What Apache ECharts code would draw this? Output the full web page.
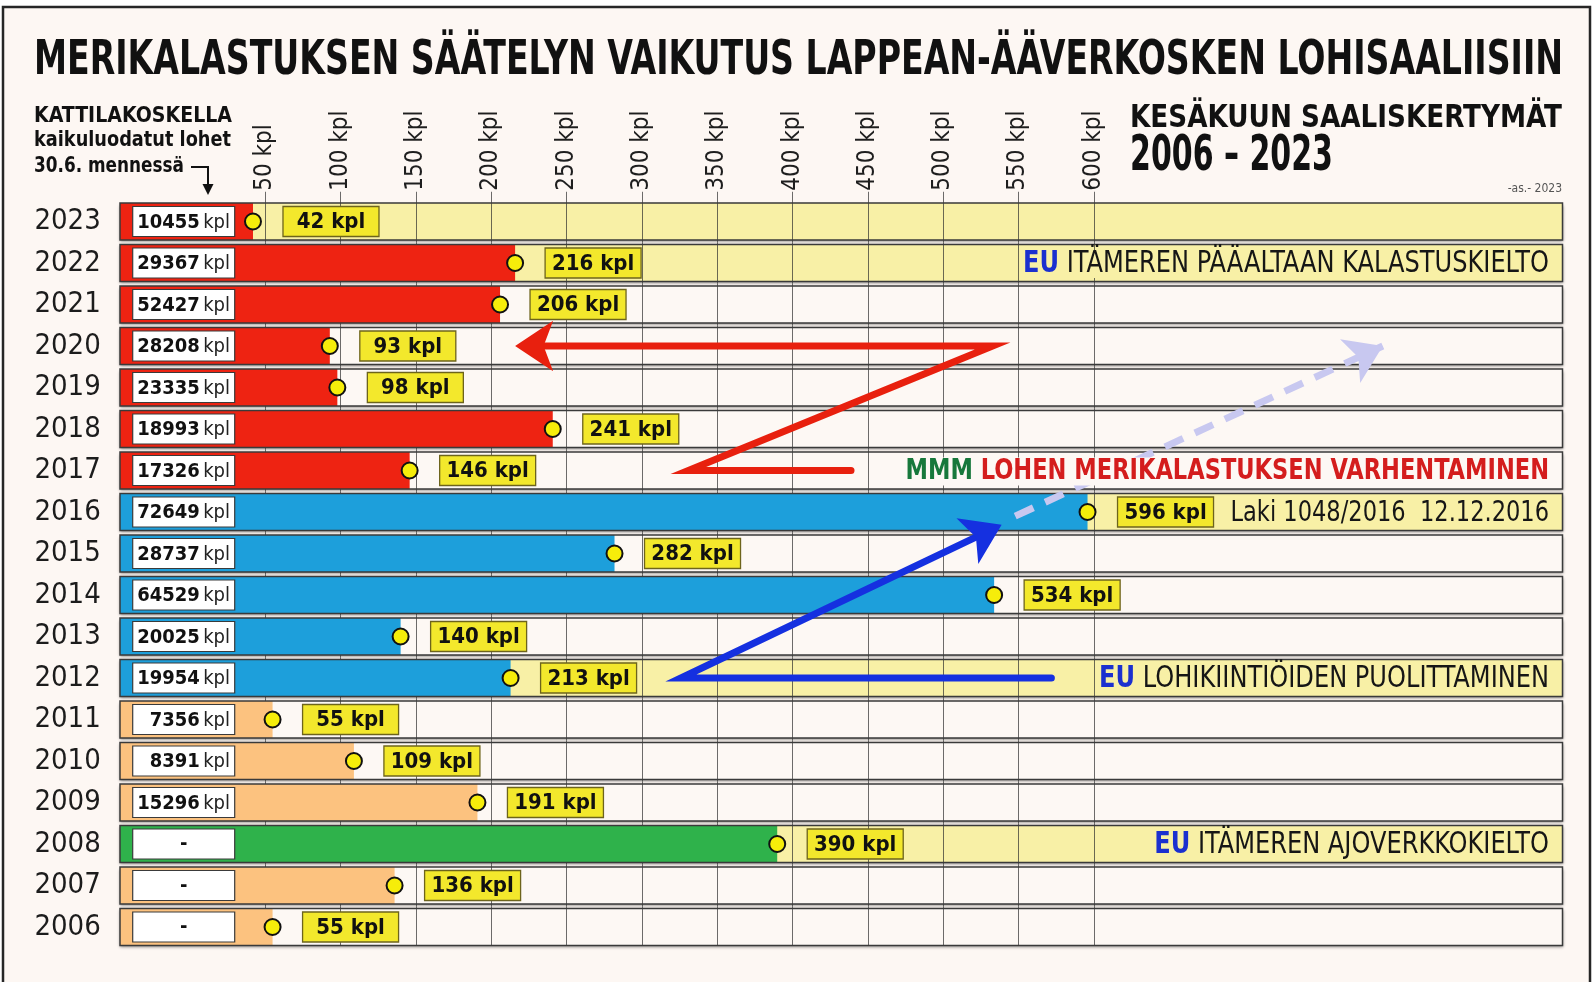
<!DOCTYPE html>
<html>
<head>
<meta charset="utf-8">
<script src="https://cdn.jsdelivr.net/npm/echarts@6/dist/echarts.min.js"></script>
<style>
  html, body { margin: 0; background: #fff; }
  #chart { width: 1596px; height: 982px; }
</style>
</head>
<body>
<div id="chart"></div>
<script>
// rows from top to bottom, as in the picture
const YEARS = ['2023', '2022', '2021', '2020', '2019', '2018', '2017', '2016', '2015',
  '2014', '2013', '2012', '2011', '2010', '2009', '2008', '2007', '2006'];
// June catch at Lappeenrannan/Äävekoski (kpl)
const CATCH = [42, 216, 206, 93, 98, 241, 146, 596, 282, 534, 140, 213, 55, 109, 191, 390, 136, 55];
// echo-sounded salmon at Kattilakoski by 30.6. (null = no count)
const COUNTED = [10455, 29367, 52427, 28208, 23335, 18993, 17326, 72649, 28737, 64529,
  20025, 19954, 7356, 8391, 15296, null, null, null];
const PERIOD = ['mmm', 'mmm', 'mmm', 'mmm', 'mmm', 'mmm', 'mmm',
  'quota', 'quota', 'quota', 'quota', 'quota',
  'free', 'free', 'free', 'driftnet', 'free', 'free'];
const HIGHLIGHT_YEARS = ['2023', '2022', '2016', '2012', '2008'];
const TICKS = [50, 100, 150, 200, 250, 300, 350, 400, 450, 500, 550, 600];

const NOTES = [
  { year: '2022', parts: [['EU', 'eu'], [' ITÄMEREN PÄÄALTAAN KALASTUSKIELTO', 'txt']] },
  { year: '2017', parts: [['MMM', 'mmm'], [' LOHEN MERIKALASTUKSEN VARHENTAMINEN', 'red']] },
  { year: '2016', parts: [['Laki 1048/2016  12.12.2016', 'laki']] },
  { year: '2012', parts: [['EU', 'eu'], [' LOHIKIINTIÖIDEN PUOLITTAMINEN', 'txt']] },
  { year: '2008', parts: [['EU', 'eu'], [' ITÄMEREN AJOVERKKOKIELTO', 'txt']] }
];

// arrows in [kpl, row] space (row 0 = 2023): body ends inside the head, head = last segment
const RED_BODY = [[439, 6], [331, 6], [533, 3], [236, 3]];
const RED_HEAD = [[533, 3], [216, 3]];
const BLUE_BODY = [[572, 11], [326, 11], [524, 7.57]];
const BLUE_HEAD = [[326, 11], [539, 7.31]];
const TREND_ARROW = [[548, 7.1], [792, 3]];

const FAM = "'DejaVu Sans Condensed', 'DejaVu Sans', sans-serif";
const PERIOD_COLOR = { mmm: '#ee2312', quota: '#1d9fdb', free: '#fcc27f', driftnet: '#2fb24b' };
const BAND_FILL = '#fdf8f4';
const BAND_HL = '#f8f0a6';
const BAND_INSET = 5.6;

const mctx = document.createElement('canvas').getContext('2d');
function textWidth(str, font) {
  mctx.font = font;
  return mctx.measureText(str).width;
}
function fit(str, font, w) {
  return w / textWidth(str, font);
}

const NOTE_SIZE = 31;
const NOTE_RICH = {
  eu: { fontFamily: FAM, fontSize: NOTE_SIZE, fontWeight: 'bold', fill: '#1b30cf', lineHeight: 28 },
  txt: { fontFamily: FAM, fontSize: NOTE_SIZE, fill: '#161616', lineHeight: 28 },
  laki: { fontFamily: FAM, fontSize: 29, fill: '#161616', lineHeight: 28 },
  mmm: { fontFamily: FAM, fontSize: 29, fontWeight: 'bold', fill: '#17783b', lineHeight: 28 },
  red: { fontFamily: FAM, fontSize: 29, fontWeight: 'bold', fill: '#d41d1d', lineHeight: 28 }
};
function partsWidth(parts) {
  return parts.reduce((s, [t, k]) => {
    const r = NOTE_RICH[k];
    return s + textWidth(t, (r.fontWeight || '') + ' ' + r.fontSize + 'px ' + FAM);
  }, 0);
}
const NOTE_SCALE = 526 / partsWidth(NOTES[0].parts);

const chart = echarts.init(document.getElementById('chart'));

function bandItem(params, api) {
  const i = params.dataIndex;
  const cs = params.coordSys;
  const cy = api.coord([0, i])[1];
  const pitch = api.size([0, 1])[1];
  const h = pitch - 4.5;
  const x0 = cs.x + BAND_INSET;
  const x1 = cs.x + cs.width;
  const hl = HIGHLIGHT_YEARS.includes(YEARS[i]);
  const children = [{
    type: 'rect',
    shape: { x: x0, y: cy - h / 2, width: x1 - x0, height: h },
    style: { fill: hl ? BAND_HL : BAND_FILL, shadowBlur: 3, shadowOffsetY: 1.5, shadowColor: 'rgba(0,0,0,0.45)' }
  }];
  const top = i === 0 ? cy - pitch / 2 - 9 : cy - pitch / 2;
  const bottom = i === YEARS.length - 1 ? cy + h / 2 : cy + pitch / 2;
  TICKS.forEach(t => {
    const x = Math.round(api.coord([t, i])[0]) + 0.5;
    children.push({
      type: 'line',
      shape: { x1: x, y1: top, x2: x, y2: bottom },
      style: { stroke: 'rgba(45,45,45,0.7)', lineWidth: 1 }
    });
  });
  return { type: 'group', children };
}

function rowItem(params, api) {
  const i = params.dataIndex;
  const v = api.value(0);
  const cs = params.coordSys;
  const [px, cy] = api.coord([v, i]);
  const pitch = api.size([0, 1])[1];
  const h = pitch - 4.5;
  const x0 = cs.x + BAND_INSET;
  const x1 = cs.x + cs.width;
  const n = COUNTED[i];
  const children = [
    {
      type: 'rect',
      shape: { x: x0, y: cy - h / 2, width: px - x0, height: h },
      style: { fill: PERIOD_COLOR[PERIOD[i]] }
    },
    {
      type: 'rect',
      shape: { x: x0, y: cy - h / 2, width: x1 - x0, height: h },
      style: { fill: 'none', stroke: '#3a3a3a', lineWidth: 1.5 }
    },
    {
      type: 'rect',
      shape: { x: x0 + 12.7, y: cy - 15, width: 102, height: 30 },
      style: { fill: '#ffffff', stroke: '#3a3a3a', lineWidth: 1.2 }
    },
    n == null ? {
      type: 'text', x: x0 + 63.7, y: cy,
      style: { text: '-', font: 'bold 20px ' + FAM, fill: '#111', align: 'center', verticalAlign: 'middle' }
    } : {
      type: 'text', x: x0 + 110, y: cy + 1,
      style: {
        text: '{n|' + n + '} {u|kpl}', align: 'right', verticalAlign: 'middle',
        rich: {
          n: { fontFamily: FAM, fontSize: 20, fontWeight: 'bold', fill: '#111' },
          u: { fontFamily: FAM, fontSize: 20, fill: '#222' }
        }
      }
    },
    {
      type: 'circle',
      shape: { cx: px, cy: cy, r: 8 },
      style: { fill: '#f6ed0a', stroke: '#111', lineWidth: 2 }
    },
    {
      type: 'rect',
      shape: { x: px + 30, y: cy - 15, width: 96, height: 30 },
      style: { fill: '#f3e82c', stroke: '#6d641c', lineWidth: 1.3 }
    },
    {
      type: 'text', x: px + 78, y: cy + 1,
      style: { text: v + ' kpl', font: 'bold 22px ' + FAM, fill: '#111', align: 'center', verticalAlign: 'middle' }
    }
  ];
  return { type: 'group', children };
}

function noteItem(params, api) {
  const note = NOTES[params.dataIndex];
  const i = YEARS.indexOf(note.year);
  const cs = params.coordSys;
  const cy = api.coord([0, i])[1];
  return {
    type: 'text',
    x: cs.x + cs.width - 10,
    y: cy + 1,
    scaleX: NOTE_SCALE,
    style: {
      text: note.parts.map(([t, k]) => '{' + k + '|' + t + '}').join(''),
      rich: NOTE_RICH,
      align: 'right',
      verticalAlign: 'middle',
      backgroundColor: HIGHLIGHT_YEARS.includes(note.year) ? BAND_HL : BAND_FILL,
      padding: [0, 4]
    }
  };
}

const rowData = YEARS.map((y, i) => [CATCH[i], i]);

function headText(text, x, y, font, width, extra) {
  return Object.assign({
    type: 'text', x: x, y: y,
    scaleX: width ? fit(text, font, width) : 1,
    style: { text: text, font: font, fill: '#111', verticalAlign: 'middle', align: 'left' }
  }, extra || {});
}

const arrowBase = {
  type: 'lines',
  coordinateSystem: 'cartesian2d',
  xAxisIndex: 0,
  yAxisIndex: 1,
  z: 4
};

const option = {
  backgroundColor: '#ffffff',
  animation: false,
  grid: { left: 114.4, right: 33.5, top: 200.75, bottom: 34.25 },
  xAxis: {
    type: 'value',
    position: 'top',
    min: -50,
    max: 911.3,
    interval: 50,
    axisLine: { show: false },
    axisTick: { show: false },
    splitLine: { show: false },
    axisLabel: {
      rotate: 90,
      margin: 10,
      fontSize: 24,
      fontFamily: FAM,
      color: '#1e1e1e',
      formatter: v => (v >= 50 && v <= 600 ? v + ' kpl' : '')
    }
  },
  yAxis: [
    {
      type: 'category',
      data: YEARS,
      inverse: true,
      axisLine: { show: false },
      axisTick: { show: false },
      axisLabel: { align: 'left', margin: 80, fontSize: 29, fontFamily: FAM, color: '#1c1c1c' }
    },
    { type: 'value', min: -0.5, max: 17.5, inverse: true, show: false }
  ],
  graphic: [
    {
      type: 'rect', z: -10,
      shape: { x: 3, y: 7, width: 1587, height: 990 },
      style: { fill: '#fdf7f3', stroke: '#262626', lineWidth: 2.5 }
    },
    headText('MERIKALASTUKSEN SÄÄTELYN VAIKUTUS LAPPEAN-ÄÄVERKOSKEN LOHISAALIISIIN', 34, 62, 'bold 48px ' + FAM, 1529),
    headText('KATTILAKOSKELLA', 34, 116, 'bold 22px ' + FAM, 198),
    headText('kaikuluodatut lohet', 34, 140, 'bold 22px ' + FAM, 197),
    headText('30.6. mennessä', 34, 166, 'bold 22px ' + FAM, 150),
    {
      type: 'polyline',
      shape: { points: [[191, 167], [208, 167], [208, 186]] },
      style: { stroke: '#111', lineWidth: 2, fill: 'none' }
    },
    {
      type: 'polygon',
      shape: { points: [[202.5, 184], [213.5, 184], [208, 195]] },
      style: { fill: '#111' }
    },
    headText('KESÄKUUN SAALISKERTYMÄT', 1130, 119, 'bold 32px ' + FAM, 432),
    headText('2006 – 2023', 1130, 157, 'bold 49px ' + FAM, 203),
    {
      type: 'text', x: 1562, y: 189,
      style: { text: '-as.- 2023', font: '12px ' + FAM, fill: '#555', align: 'right', verticalAlign: 'middle' }
    }
  ],
  series: [
    {
      type: 'custom',
      z: 2,
      renderItem: bandItem,
      encode: { x: 0, y: 1 },
      data: rowData
    },
    {
      type: 'custom',
      z: 3,
      renderItem: rowItem,
      encode: { x: 0, y: 1 },
      data: rowData
    },
    // arrow bodies with sharp corners
    Object.assign({}, arrowBase, {
      polyline: true,
      lineStyle: { width: 7, opacity: 1, cap: 'round', curveness: 0 },
      data: [
        { coords: RED_BODY, lineStyle: { color: '#e8200e' } },
        { coords: BLUE_BODY, lineStyle: { color: '#1530e0' } }
      ]
    }),
    // arrow heads only (invisible segment)
    Object.assign({}, arrowBase, {
      symbol: ['none', 'arrow'],
      symbolSize: [22, 38],
      lineStyle: { width: 0, opacity: 1, curveness: 0 },
      data: [
        { coords: RED_HEAD, lineStyle: { color: '#e8200e' } },
        { coords: BLUE_HEAD, lineStyle: { color: '#1530e0' } }
      ]
    }),
    Object.assign({}, arrowBase, {
      symbol: ['none', 'arrow'],
      symbolSize: [22, 36],
      lineStyle: { width: 7, opacity: 1, color: '#c8c8f0', type: [20, 13], curveness: 0 },
      data: [{ coords: TREND_ARROW }]
    }),
    {
      type: 'custom',
      z: 5,
      renderItem: noteItem,
      encode: { x: 0, y: 1 },
      data: NOTES.map(nt => [0, YEARS.indexOf(nt.year)])
    }
  ]
};

chart.setOption(option);
</script>
</body>
</html>
